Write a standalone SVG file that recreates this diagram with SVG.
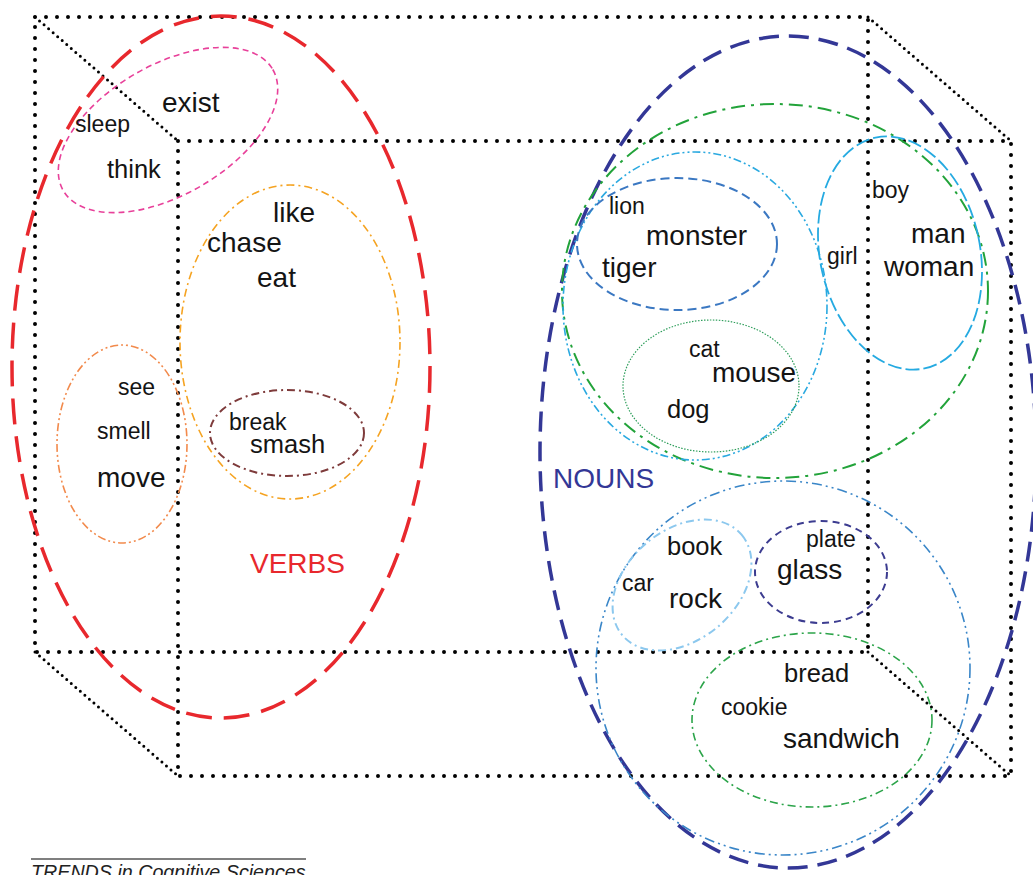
<svg xmlns="http://www.w3.org/2000/svg" width="1033" height="875" viewBox="0 0 1033 875">
<style>
.cube{fill:none;stroke:#000;stroke-width:4;stroke-linecap:round;stroke-dasharray:0 11}
.diag{fill:none;stroke:#000;stroke-width:3;stroke-linecap:round;stroke-dasharray:0 6}
.e{fill:none}
text{font-family:"Liberation Sans",Arial,sans-serif;fill:#141414}
.b{font-size:28px}
.m{font-size:25.5px}
.s{font-size:23px}
</style>
<rect width="1033" height="875" fill="#fff"/>
<g id="cube">
<rect class="cube" x="35" y="17" width="833" height="635"/>
<rect class="cube" x="178" y="141" width="833" height="635"/>
<line class="diag" x1="35" y1="17" x2="178" y2="141"/>
<line class="diag" x1="868" y1="17" x2="1011" y2="141"/>
<line class="diag" x1="35" y1="652" x2="178" y2="776"/>
<line class="diag" x1="868" y1="652" x2="1011" y2="776"/>
</g>
<g id="verbs">
<ellipse class="e" cx="221" cy="367" rx="209" ry="351" stroke="#e8282d" stroke-width="3.5" stroke-dasharray="26 12"/>
<text x="250" y="573" style="font-size:28px;fill:#e8282d">VERBS</text>
</g>
<g id="sleep-group">
<ellipse class="e" cx="168" cy="130" rx="121" ry="65" transform="rotate(-30 168 130)" stroke="#e8419a" stroke-width="1.6" stroke-dasharray="6 4"/>
<text class="b" x="162" y="112">exist</text>
<text class="s" x="75" y="132">sleep</text>
<text class="m" x="107" y="178">think</text>
</g>
<g id="like-group">
<ellipse class="e" cx="290" cy="342" rx="110" ry="157" stroke="#f5a321" stroke-width="1.6" stroke-dasharray="8 4 2 4"/>
<text class="b" x="273" y="222">like</text>
<text class="b" x="207" y="252">chase</text>
<text class="b" x="257" y="287">eat</text>
</g>
<g id="break-group">
<ellipse class="e" cx="287" cy="433" rx="77" ry="43" stroke="#7e3b3b" stroke-width="2" stroke-dasharray="8 4 2 4"/>
<text class="s" x="229" y="430">break</text>
<text class="m" x="250" y="453">smash</text>
</g>
<g id="see-group">
<ellipse class="e" cx="122" cy="444" rx="65" ry="99" stroke="#f28a4c" stroke-width="1.6" stroke-dasharray="8 3 2 3 2 3"/>
<text class="s" x="118" y="395">see</text>
<text class="s" x="97" y="439">smell</text>
<text class="b" x="97" y="487">move</text>
</g>
<g id="nouns">
<ellipse class="e" cx="788" cy="452" rx="248" ry="416" stroke="#333796" stroke-width="3.5" stroke-dasharray="20 10"/>
<text x="553" y="488" style="font-size:28px;fill:#333796">NOUNS</text>
</g>
<g id="animate">
<ellipse class="e" cx="775" cy="291" rx="213" ry="187" stroke="#22a33a" stroke-width="2" stroke-dasharray="14 6 3 6"/>
</g>
<g id="animals">
<ellipse class="e" cx="695" cy="306" rx="132" ry="154" stroke="#2aa9e0" stroke-width="1.6" stroke-dasharray="8 3 2 3 2 3"/>
</g>
<g id="lion-group">
<ellipse class="e" cx="677" cy="244" rx="100" ry="66" stroke="#3b78c2" stroke-width="2" stroke-dasharray="9 5"/>
<text class="s" x="609" y="214">lion</text>
<text class="b" x="646" y="245">monster</text>
<text class="b" x="602" y="277">tiger</text>
</g>
<g id="cat-group">
<ellipse class="e" cx="711" cy="386" rx="88" ry="66" stroke="#2e9e5b" stroke-width="1.2" stroke-dasharray="1.5 1.5"/>
<text class="s" x="689" y="357">cat</text>
<text class="b" x="712" y="382">mouse</text>
<text class="m" x="667" y="418">dog</text>
</g>
<g id="people-group">
<ellipse class="e" cx="900" cy="253" rx="80" ry="118" transform="rotate(-12 900 253)" stroke="#25aae1" stroke-width="1.8" stroke-dasharray="14 4"/>
<text class="s" x="872" y="198">boy</text>
<text class="s" x="827" y="264">girl</text>
<text class="b" x="911" y="243">man</text>
<text class="b" x="884" y="276">woman</text>
</g>
<g id="inanimate">
<ellipse class="e" cx="783" cy="668" rx="187" ry="187" stroke="#3a86c8" stroke-width="1.6" stroke-dasharray="10 4 2 4 2 4"/>
</g>
<g id="book-group">
<ellipse class="e" cx="682" cy="585" rx="78" ry="55" transform="rotate(-40 682 585)" stroke="#8cc8ee" stroke-width="2" stroke-dasharray="8 4 2 4"/>
<text class="m" x="667" y="555">book</text>
<text class="s" x="622" y="591">car</text>
<text class="b" x="669" y="608">rock</text>
</g>
<g id="plate-group">
<ellipse class="e" cx="821" cy="572" rx="66" ry="51" stroke="#3c3c90" stroke-width="2" stroke-dasharray="7 5"/>
<text class="s" x="806" y="547">plate</text>
<text class="b" x="777" y="579">glass</text>
</g>
<g id="bread-group">
<ellipse class="e" cx="812" cy="720" rx="120" ry="87" stroke="#2ca44a" stroke-width="1.6" stroke-dasharray="8 4 2 4"/>
<text class="m" x="784" y="682">bread</text>
<text class="s" x="721" y="715">cookie</text>
<text class="b" x="783" y="748">sandwich</text>
</g>
<g id="caption">
<line x1="31" y1="859" x2="306" y2="859" stroke="#555" stroke-width="1.5"/>
<text x="31" y="879" style="font-size:19.7px;font-style:italic;fill:#222">TRENDS in Cognitive Sciences</text>
</g>
</svg>
